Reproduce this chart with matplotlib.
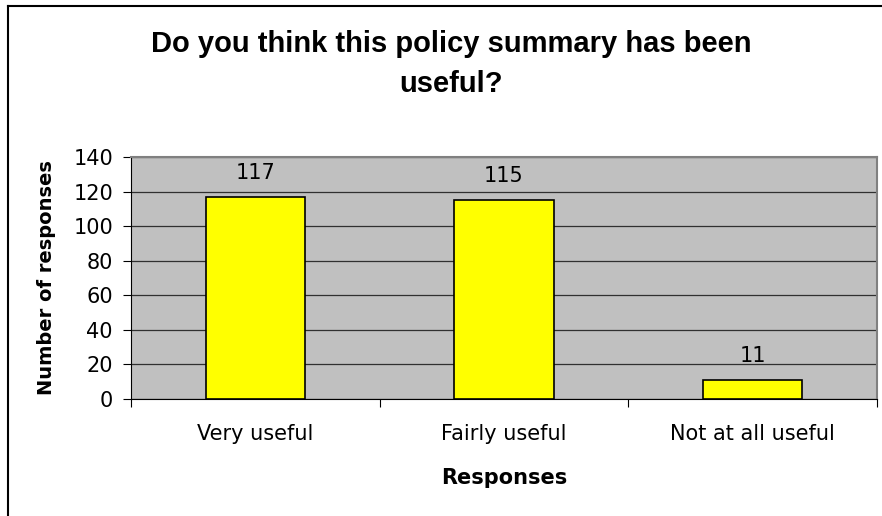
import matplotlib.pyplot as plt
from matplotlib.lines import Line2D

categories = ['Very useful', 'Fairly useful', 'Not at all useful']
counts = [117, 115, 11]
yticks = [0, 20, 40, 60, 80, 100, 120, 140]

plt.rcParams['font.family'] = ['DejaVu Sans']

fig = plt.figure(figsize=(8.82, 5.16), dpi=100)
W, H = 882, 516
ax = fig.add_axes([131 / W, 1 - 399 / H, (877 - 131) / W, (399 - 157) / H])

# chart frame (only left and top edges are inside the picture)
fig.add_artist(Line2D([8 / W, 8 / W], [0, 1 - 6 / H], color='black', lw=1.5,
                      transform=fig.transFigure))
fig.add_artist(Line2D([8 / W, 1], [1 - 6 / H, 1 - 6 / H], color='black', lw=1.5,
                      transform=fig.transFigure))

ax.set_facecolor('#C0C0C0')
x = range(len(categories))
ax.bar(x, counts, width=0.4, color='#FFFF00', edgecolor='black', linewidth=1.2, zorder=3)
for xi, v in zip(x, counts):
    ax.annotate(str(v), (xi, v), xytext=(0, 10), textcoords='offset points',
                ha='center', va='bottom', fontsize=15)

ax.set_xlim(-0.5, len(categories) - 0.5)
ax.set_ylim(0, 140)
ax.set_yticks(yticks)
ax.yaxis.grid(True, color='#303030', linewidth=0.9, zorder=1)
ax.set_axisbelow(True)

ax.set_xticks([i - 0.5 for i in range(len(categories) + 1)], minor=False)
ax.set_xticklabels([])
ax.set_xticks(list(x), minor=True)
ax.set_xticklabels(categories, minor=True, fontsize=15)
ax.tick_params(axis='x', which='minor', length=0, pad=18)
ax.tick_params(axis='x', which='major', length=6, direction='out', color='black')
ax.tick_params(axis='y', length=6, direction='out', labelsize=15, pad=7)

for s in ['top', 'right']:
    ax.spines[s].set_color('#808080')
    ax.spines[s].set_linewidth(1.5)
ax.spines['left'].set_color('black')
ax.spines['bottom'].set_color('black')

ax.set_ylabel('Number of responses', fontsize=14, fontweight='bold', va='center')
ax.yaxis.set_label_coords((47 - 131) / 746, 0.5)
ax.set_xlabel('Responses', fontsize=15, fontweight='bold', va='center')
ax.xaxis.set_label_coords(0.5, (399 - 478) / 242)

fig.text(451 / W, 1 - 64 / H, 'Do you think this policy summary has been\nuseful?',
         ha='center', va='center', fontsize=21, fontweight='bold', linespacing=1.5,
         family='Liberation Sans')

fig.savefig('out.png', dpi=100)
